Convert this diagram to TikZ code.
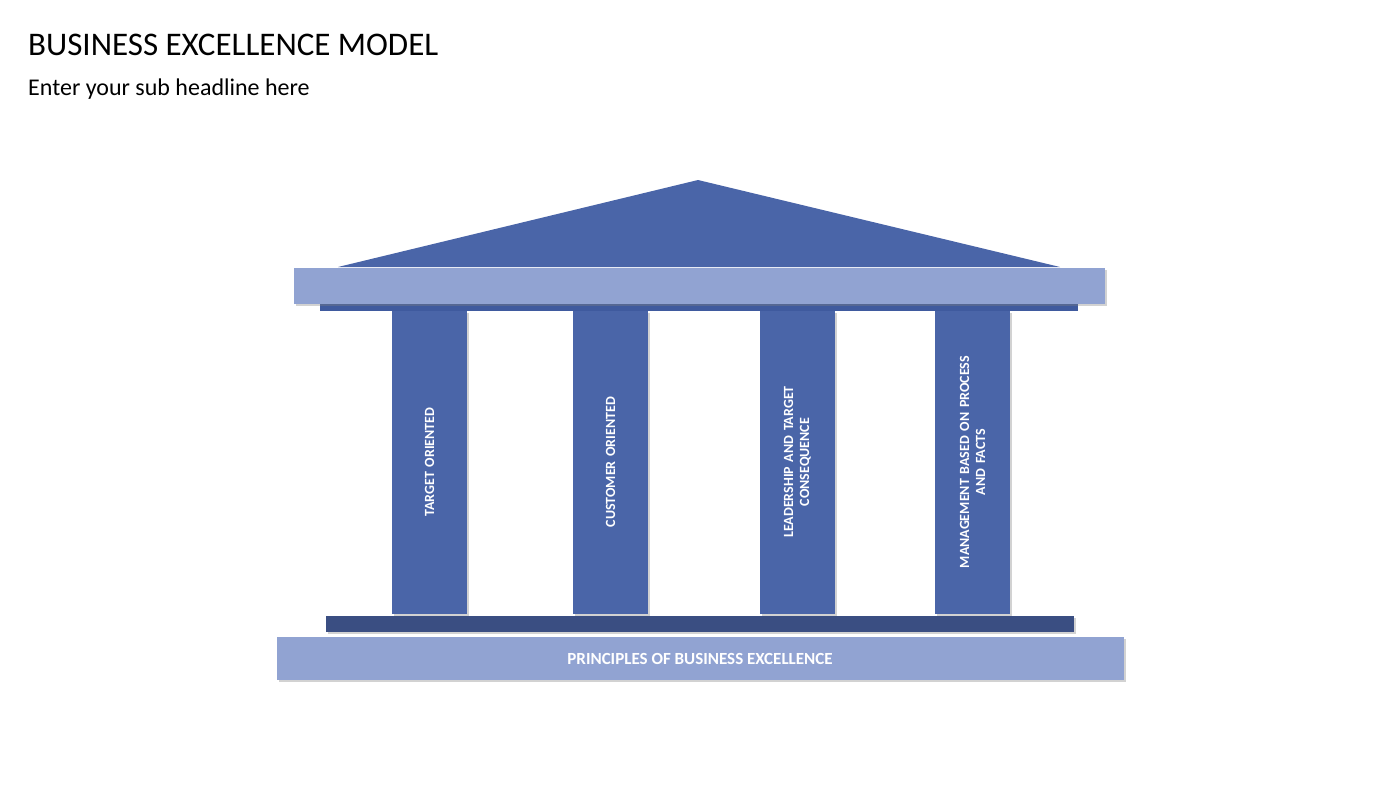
\documentclass[tikz,border=0pt]{standalone}
\usepackage{fontspec}
\setmainfont{Carlito}
\usetikzlibrary{shadows}
\definecolor{mid}{HTML}{4A65A8}
\definecolor{lite}{HTML}{91A3D2}
\definecolor{dark}{HTML}{3A4E82}
\definecolor{dk2}{HTML}{3F5A9E}
\tikzset{
 sh/.style={drop shadow={shadow xshift=2pt,shadow yshift=-2pt,opacity=0.35}},
 col/.style={fill=mid,sh},
 coltxt/.style={rotate=90,text=white,font=\fontsize{14}{16}\selectfont\bfseries,align=center,text width=260pt},
}
\begin{document}
\begin{tikzpicture}[x=1pt,y=-1pt]
\useasboundingbox[fill=white] (0,0) rectangle (1400,788);
\node[anchor=base west,inner sep=0,font=\fontsize{33}{36}\selectfont] (title) at (28,55) {BUSINESS EXCELLENCE MODEL};
\node[anchor=base west,inner sep=0,font=\fontsize{24}{28}\selectfont] (sub) at (28,95) {Enter your sub headline here};
\fill[mid] (338,267) -- (698,180) -- (1060,267) -- cycle;
\fill[dk2] (320,303) rectangle (1078,311);
\path[fill=lite,sh] (294,268) rectangle (1105,304);
\foreach \x/\t [count=\i] in {392/TARGET ORIENTED,573/CUSTOMER ORIENTED,760/{LEADERSHIP AND TARGET\\CONSEQUENCE},935/{MANAGEMENT BASED ON PROCESS\\AND FACTS}}{
 \path[col] (\x,311) rectangle (\x+75,614);
 \node[coltxt] (c\i) at (\x+37.5,462) {\t};
}
\path[fill=dark,sh] (326,616) rectangle (1074,632);
\path[fill=lite,sh] (277,637) rectangle (1124,680);
\node[text=white,font=\fontsize{17}{20}\selectfont\bfseries] (base) at (700,659) {PRINCIPLES OF BUSINESS EXCELLENCE};
\end{tikzpicture}
\end{document}
